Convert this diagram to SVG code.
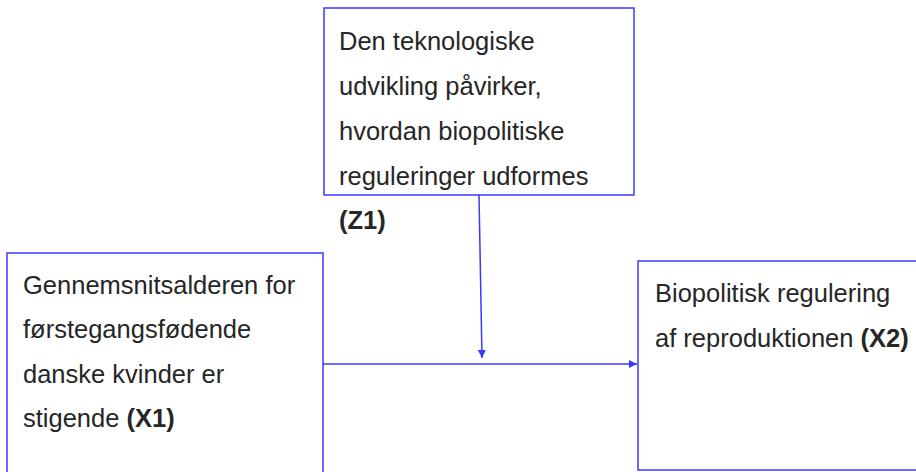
<svg xmlns="http://www.w3.org/2000/svg" width="916" height="472" viewBox="0 0 916 472">
<defs>
<style>
.box{fill:#fff;stroke:#3a3aff;stroke-width:1.5}
.t{font-family:"Liberation Sans",Arial,sans-serif;font-size:25.5px;fill:#262626}
.b{font-weight:bold}
.c{stroke:#3a3aff;stroke-width:1.5;fill:none}
</style>
<marker id="ah" viewBox="0 0 10 10" refX="10" refY="5" markerWidth="8" markerHeight="8" markerUnits="userSpaceOnUse" orient="auto">
<path d="M0,0 L10,5 L0,10 Z" fill="#3a3aff"/>
</marker>
</defs>
<rect width="916" height="472" fill="#fff"/>
<g id="z1">
<rect class="box" x="324" y="8" width="310" height="187"/>
<text class="t" x="339" y="50">Den teknologiske</text>
<text class="t" x="339" y="95">udvikling påvirker,</text>
<text class="t" x="339" y="140">hvordan biopolitiske</text>
<text class="t" x="339" y="185">reguleringer udformes</text>
<text class="t b" x="339" y="229">(Z1)</text>
</g>
<g id="x1">
<rect class="box" x="7" y="253" width="316" height="230"/>
<text class="t" x="23" y="294">Gennemsnitsalderen for</text>
<text class="t" x="23" y="338">førstegangsfødende</text>
<text class="t" x="23" y="383">danske kvinder er</text>
<text class="t" x="23" y="427">stigende <tspan class="b">(X1)</tspan></text>
</g>
<g id="x2">
<rect class="box" x="638" y="261" width="290" height="209"/>
<text class="t" x="655" y="302">Biopolitisk regulering</text>
<text class="t" x="655" y="347">af reproduktionen <tspan class="b">(X2)</tspan></text>
</g>
<g id="connectors">
<line class="c" x1="323" y1="364" x2="637" y2="364" marker-end="url(#ah)"/>
<line class="c" x1="479" y1="195" x2="482" y2="358" marker-end="url(#ah)"/>
</g>
</svg>
